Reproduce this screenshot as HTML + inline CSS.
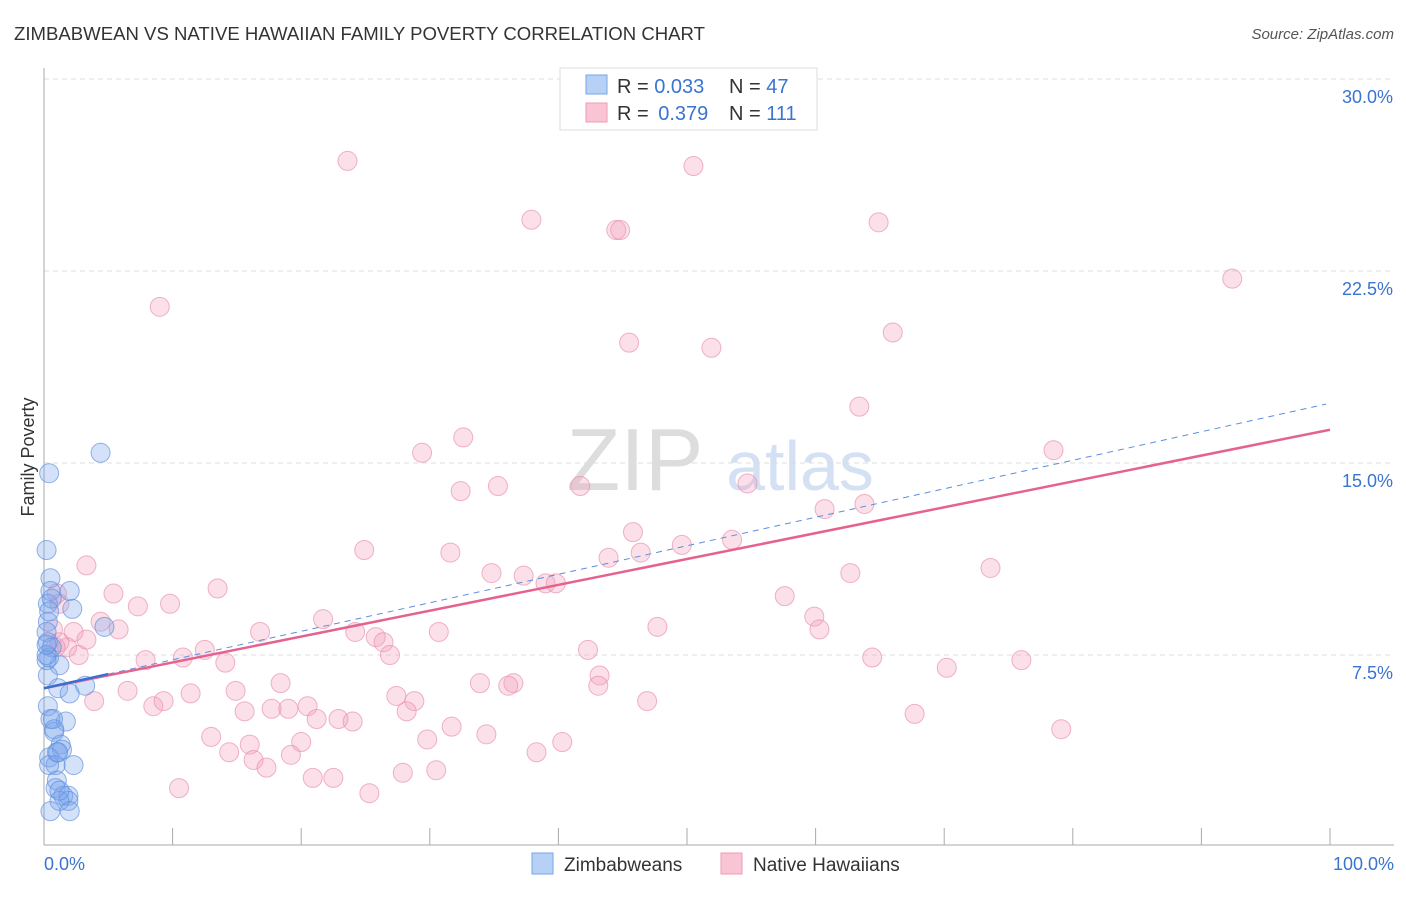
<!DOCTYPE html>
<html><head><meta charset="utf-8"><style>
body{margin:0;background:#fff;font-family:"Liberation Sans",sans-serif}
svg text{font-family:"Liberation Sans",sans-serif}
</style></head><body>
<svg width="1406" height="892" viewBox="0 0 1406 892" id="c">
<text x="14" y="40" font-size="18" fill="#333" textLength="691" lengthAdjust="spacingAndGlyphs">ZIMBABWEAN VS NATIVE HAWAIIAN FAMILY POVERTY CORRELATION CHART</text>
<text x="1394" y="39" font-size="15" fill="#555" font-style="italic" text-anchor="end">Source: ZipAtlas.com</text>
<text transform="translate(34,457) rotate(-90)" font-size="18" fill="#333" text-anchor="middle">Family Poverty</text>
<g>
<text x="635" y="490" font-size="88" font-family="Liberation Serif,serif" fill="#ddd" text-anchor="middle">ZIP</text>
<text x="800" y="490" font-size="70" fill="#d4e0f4" text-anchor="middle">atlas</text>
</g>
<g id="grid"></g>
<g id="axes"></g>
<g id="pts"></g>
<g id="lines"></g>
<g>
<rect x="560" y="68" width="257" height="62" fill="#fff" stroke="#ddd"/>
<rect x="586" y="75" width="21" height="19" fill="#b7d0f5" stroke="#7aa5e8"/>
<rect x="586" y="103" width="21" height="19" fill="#f9c5d5" stroke="#ee9bb5"/>
<text x="617" y="93" font-size="20" fill="#333">R = <tspan fill="#3a74d0">0.033</tspan><tspan x="729">N = </tspan><tspan fill="#3a74d0">47</tspan></text>
<text x="617" y="120" font-size="20" fill="#333">R = <tspan fill="#3a74d0" dx="4">0.379</tspan><tspan x="729">N = </tspan><tspan fill="#3a74d0">111</tspan></text>
</g>
<g>
<rect x="532" y="853" width="21" height="21" fill="#b7d0f5" stroke="#7aa5e8"/>
<text x="564" y="871" font-size="19" fill="#333">Zimbabweans</text>
<rect x="721" y="853" width="21" height="21" fill="#f9c5d5" stroke="#ee9bb5"/>
<text x="753" y="871" font-size="19" fill="#333">Native Hawaiians</text>
</g>
</svg>
<script>
const yTicks=[7.5,15,22.5,30];
const yTickLabels=["7.5%","15.0%","22.5%","30.0%"];
const xTickLabels=["0.0%","100.0%"];
const blueX=[4.4,0.4,0.2,0.5,2.0,2.2,0.5,0.3,0.6,0.3,0.2,4.7,0.3,0.6,0.4,1.2,0.3,1.1,2.0,3.2,0.3,1.7,0.5,0.8,1.3,1.0,1.4,0.4,2.3,0.9,1.0,0.9,1.5,1.9,1.9,1.2,2.0,0.5,0.2,0.2,0.2,0.4,0.7,0.8,0.4,1.1,1.2];
const blueY=[15.4,14.6,11.6,10.5,10.0,9.3,10.0,9.5,9.7,8.8,8.4,8.6,8.0,7.8,7.4,7.1,6.7,6.2,6.0,6.3,5.5,4.9,5.0,4.5,4.0,3.7,3.8,3.5,3.2,3.2,2.6,2.3,2.0,2.0,1.8,1.8,1.4,1.4,7.3,7.5,7.9,9.2,5.0,4.6,3.2,3.7,2.2];
const pinkX=[23.6,50.5,37.9,44.5,44.8,64.9,92.4,9.0,45.5,51.9,66.0,63.4,32.6,29.4,78.5,32.4,35.3,41.7,54.7,60.7,63.8,45.8,24.9,31.6,43.9,46.4,49.6,53.5,3.3,34.8,37.3,39.0,39.8,62.7,73.6,5.4,13.5,7.3,9.8,57.6,59.9,21.7,4.4,5.8,2.3,16.8,24.2,25.8,26.4,30.7,60.3,47.7,1.2,1.8,2.7,12.5,26.9,42.3,7.9,10.8,14.1,64.4,76.0,70.2,43.2,18.4,33.9,36.5,36.1,43.1,14.9,6.5,11.4,3.9,8.5,9.3,15.6,17.7,19.0,20.5,21.2,22.9,24.0,27.4,28.8,28.2,46.9,67.7,31.7,34.4,79.1,13.0,16.0,14.4,20.0,29.8,40.3,38.3,16.3,19.2,17.3,20.9,22.5,27.9,30.5,10.5,25.3,0.7,1.2,1.0,0.9,3.3];
const pinkY=[26.8,26.6,24.5,24.1,24.1,24.4,22.2,21.1,19.7,19.5,20.1,17.2,16.0,15.4,15.5,13.9,14.1,14.1,14.2,13.2,13.4,12.3,11.6,11.5,11.3,11.5,11.8,12.0,11.0,10.7,10.6,10.3,10.3,10.7,10.9,9.9,10.1,9.4,9.5,9.8,9.0,8.9,8.8,8.5,8.4,8.4,8.4,8.2,8.0,8.4,8.5,8.6,8.0,7.8,7.5,7.7,7.5,7.7,7.3,7.4,7.2,7.4,7.3,7.0,6.7,6.4,6.4,6.4,6.3,6.3,6.1,6.1,6.0,5.7,5.5,5.7,5.3,5.4,5.4,5.5,5.0,5.0,4.9,5.9,5.7,5.3,5.7,5.2,4.7,4.4,4.6,4.3,4.0,3.7,4.1,4.2,4.1,3.7,3.4,3.6,3.1,2.7,2.7,2.9,3.0,2.3,2.1,8.5,9.5,9.9,7.8,8.1];
const pinkTrend=[6.2,16.3];
const blueTrend=[6.2,17.3];
const blueSolidEnd=5;
const NS="http://www.w3.org/2000/svg";
const X=v=>44+v*12.86, Y=v=>847-v*25.6;
function mk(t,a,p){const e=document.createElementNS(NS,t);for(const k in a)e.setAttribute(k,a[k]);p.appendChild(e);return e;}
const grid=document.getElementById('grid'),axes=document.getElementById('axes'),pts=document.getElementById('pts'),lines=document.getElementById('lines');
yTicks.forEach((t,i)=>{
 const g=mk('line',{x1:44,x2:1394,y1:Y(t),y2:Y(t),stroke:'#ddd','stroke-dasharray':'5,4'},grid);
 
 
 const l=mk('text',{x:1393,y:Y(t)+24,'font-size':18,fill:'#3a74d0','text-anchor':'end'},axes);
 l.textContent=yTickLabels[i];
 
 
});
const ax=mk('line',{x1:44,x2:44,y1:68,y2:845,stroke:'#aaa'},axes);


const bx=mk('line',{x1:44,x2:1394,y1:845,y2:845,stroke:'#aaa'},axes);


for(let i=0;i<=10;i++){
 const t=mk('line',{x1:X(i*10),x2:X(i*10),y1:828,y2:845,stroke:'#aaa'},axes);
 
 
}
[[0,44,'start'],[100,1394,'end']].forEach((d,i)=>{
 const l=mk('text',{x:d[1],y:870,'font-size':18,fill:'#3a74d0','text-anchor':d[2]},axes);
 l.textContent=xTickLabels[i];
 
 
});
pinkX.forEach((v,i)=>{
 const c=mk('circle',{cx:X(v),cy:Y(pinkY[i]),r:9.5,fill:'rgba(244,160,188,0.32)',stroke:'rgba(232,140,170,0.65)','stroke-width':1},pts);
 
 
});
blueX.forEach((v,i)=>{
 const c=mk('circle',{cx:X(v),cy:Y(blueY[i]),r:9.5,fill:'rgba(120,165,235,0.32)',stroke:'rgba(90,140,220,0.65)','stroke-width':1},pts);
 
 
});
const bd=mk('line',{x1:X(0),y1:Y(blueTrend[0]),x2:X(100)-4,y2:Y(blueTrend[1]),stroke:'#5b8fdc','stroke-width':1,'stroke-dasharray':'6,5'},lines);


const pl=mk('line',{x1:X(0),y1:Y(pinkTrend[0]),x2:X(100),y2:Y(pinkTrend[1]),stroke:'#e5628f','stroke-width':2.5},lines);


const bs=mk('line',{x1:X(0),y1:Y(blueTrend[0]),x2:X(blueSolidEnd),y2:Y(blueTrend[0]+(blueTrend[1]-blueTrend[0])*blueSolidEnd/100),stroke:'#3a6fd0','stroke-width':2.5},lines);


</script>
</body></html>
